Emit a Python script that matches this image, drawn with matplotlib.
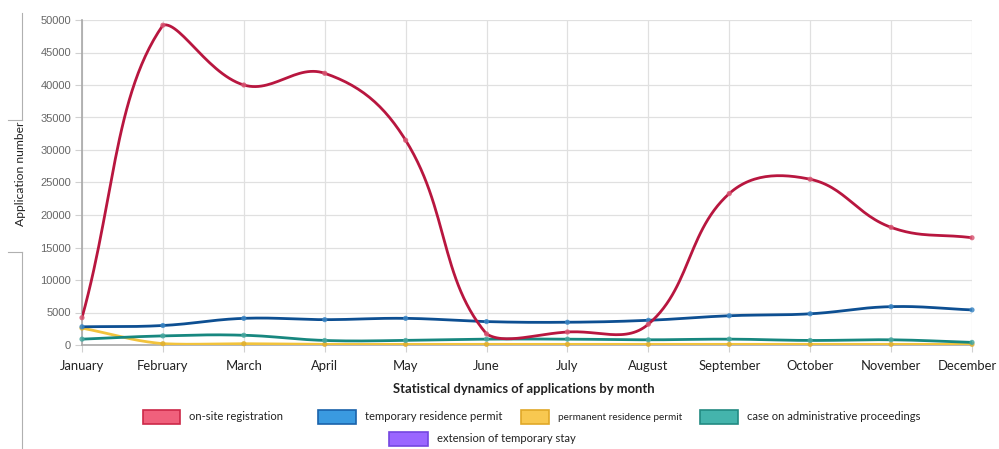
import numpy as np
import matplotlib.pyplot as plt
import matplotlib.transforms as mtransforms
from matplotlib.patches import Rectangle
from matplotlib.lines import Line2D

months = ["January", "February", "March", "April", "May", "June", "July",
          "August", "September", "October", "November", "December"]

onsite_registration = [4200, 49200, 40000, 41800, 31500, 1700, 2000, 3200,
                       23300, 25500, 18100, 16500]
temporary_residence = [2800, 3000, 4100, 3900, 4100, 3600, 3500, 3800,
                       4500, 4800, 5900, 5400]
permanent_residence = [2600, 200, 200, 100, 100, 100, 100, 100,
                       100, 100, 100, 100]
admin_proceedings = [900, 1400, 1500, 700, 700, 900, 900, 800,
                     900, 700, 800, 400]
temporary_stay_ext = []

legend_labels = ["on-site registration", "temporary residence permit",
                 "permanent residence permit", "case on administrative proceedings",
                 "extension of temporary stay"]

W, H = 999, 449
fig = plt.figure(figsize=(W / 100, H / 100), dpi=100)


def fx(px):
    return px / W


def fy(py):
    return 1 - py / H


ax = fig.add_axes([fx(82), fy(345), fx(972) - fx(82), fy(20) - fy(345)])
YMAX = 50000
# pixel scale of the axes, used so the spline tension behaves like a canvas chart
SX = (972 - 82) / 11
SY = 325 / YMAX


def spline(values, tension=0.4, steps=30):
    pts = np.array([[i * SX, v * SY] for i, v in enumerate(values)], float)
    n = len(pts)
    ctrl_prev = pts.copy()
    ctrl_next = pts.copy()
    for i in range(n):
        p0 = pts[max(i - 1, 0)]
        p1 = pts[i]
        p2 = pts[min(i + 1, n - 1)]
        d01 = np.hypot(*(p1 - p0))
        d12 = np.hypot(*(p2 - p1))
        tot = d01 + d12
        s01 = d01 / tot if tot else 0
        s12 = d12 / tot if tot else 0
        ctrl_prev[i] = p1 - tension * s01 * (p2 - p0)
        ctrl_next[i] = p1 + tension * s12 * (p2 - p0)
    ctrl_prev[:, 1] = np.clip(ctrl_prev[:, 1], 0, YMAX * SY)
    ctrl_next[:, 1] = np.clip(ctrl_next[:, 1], 0, YMAX * SY)
    out = []
    t = np.linspace(0, 1, steps)[:, None]
    for i in range(n - 1):
        a, b, c, d = pts[i], ctrl_next[i], ctrl_prev[i + 1], pts[i + 1]
        seg = ((1 - t) ** 3) * a + 3 * ((1 - t) ** 2) * t * b + 3 * (1 - t) * t ** 2 * c + t ** 3 * d
        out.append(seg if i == 0 else seg[1:])
    out = np.vstack(out)
    return out[:, 0] / SX, out[:, 1] / SY


series = [
    (permanent_residence, "#f2c33c", "#e0b030", 3),
    (admin_proceedings, "#17877f", "#4aa8a0", 4),
    (temporary_residence, "#0d4f92", "#3c86c4", 5),
    (onsite_registration, "#b8163f", "#d85874", 6),
]

x = np.arange(len(months))
for vals, lc, mc, z in series:
    sx, sy = spline(vals)
    ax.plot(sx, sy, color=lc, lw=2.0, zorder=z, solid_capstyle="round")
    ax.scatter(x, vals, s=14, color=mc, edgecolor="none", alpha=0.85, zorder=z + 0.5, clip_on=False)

if temporary_stay_ext:
    ax.plot(x[:len(temporary_stay_ext)], temporary_stay_ext, color="#7a4de0", lw=2.0, zorder=2)

ax.set_xlim(0, 11)
ax.set_ylim(0, YMAX)
ax.set_xticks(x)
ax.set_xticklabels(months, fontfamily="Lato", fontsize=9.4, color="#222222")
ax.set_yticks(np.arange(0, YMAX + 1, 5000))
ax.set_yticklabels([str(v) for v in range(0, YMAX + 1, 5000)],
                   fontfamily="Liberation Sans", fontsize=8, color="#666666")
ax.tick_params(axis="both", length=5, width=0.8, color="#d0d0d0", pad=3)
ax.tick_params(axis="x", pad=6)
# pull the last month label inside the figure edge
last = ax.xaxis.get_major_ticks()[-1].label1
last.set_transform(last.get_transform() + mtransforms.ScaledTranslation(-5 / 100, 0, fig.dpi_scale_trans))
ax.grid(True, color="#e0e0e0", lw=0.9)
ax.set_axisbelow(True)
for side in ["top", "right"]:
    ax.spines[side].set_visible(False)
ax.spines["left"].set_color("#a8a8a8")
ax.spines["left"].set_linewidth(1.2)
ax.spines["bottom"].set_color("#a8a8a8")
ax.spines["bottom"].set_linewidth(1.2)

fig.text(fx(21), fy(174), "Application number", rotation=90, ha="center", va="center",
         fontfamily="Lato", fontsize=8.7, color="#222222")
fig.text(fx(524), fy(389), "Statistical dynamics of applications by month", ha="center",
         va="center", fontfamily="Lato", fontweight="bold", fontsize=9.4, color="#222222")

# bracket lines beside the y label
for (x0, y0, x1, y1) in [(22, 13, 22, 120), (8, 120, 22, 120),
                         (8, 252, 22, 252), (22, 252, 22, 449)]:
    fig.add_artist(Line2D([fx(x0), fx(x1)], [fy(y0), fy(y1)], color="#b0b0b0", lw=0.8))

# legend boxes: left, top, width, colours, label index, font size
legend_items = [
    (143, 410, 37, "#f0607c", "#cc2848", 0, 8.1),
    (318, 410, 38, "#3a9ae0", "#1a62aa", 1, 8.1),
    (521, 410, 28, "#f8c850", "#e0a828", 2, 7.2),
    (700, 410, 38, "#44b4ac", "#228a82", 3, 8.1),
    (389, 432, 39, "#9a66ff", "#7446e0", 4, 8.1),
]
for px, py, bw, fc, ec, idx, fs in legend_items:
    fig.add_artist(Rectangle((fx(px), fy(py + 14)), fx(bw), 14 / H, facecolor=fc,
                             edgecolor=ec, lw=1.2))
    fig.text(fx(px + bw + 9), fy(py + 7), legend_labels[idx], ha="left", va="center",
             fontfamily="Lato", fontsize=fs, color="#222222")

fig.savefig("out.png", dpi=100)
